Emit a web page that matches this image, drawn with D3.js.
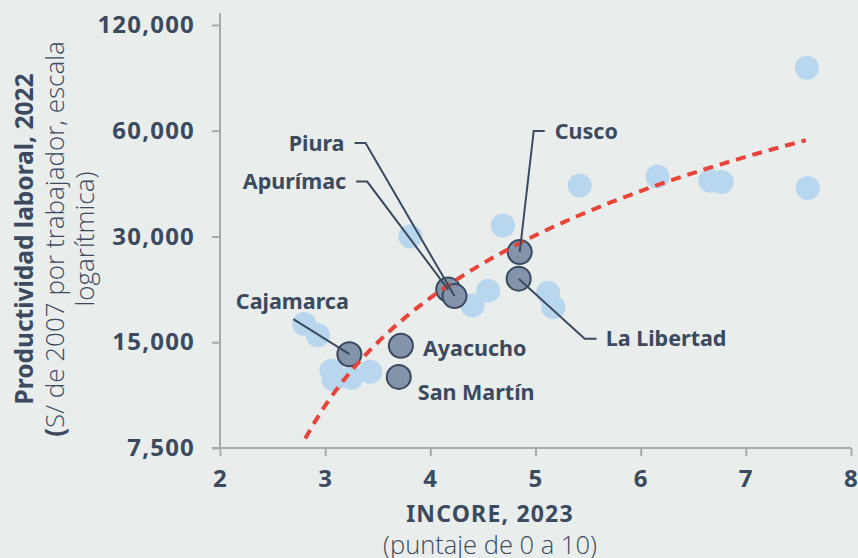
<!DOCTYPE html>
<html>
<head>
<meta charset="utf-8">
<script src="https://cdn.jsdelivr.net/npm/d3@7"></script>
<style>
  body { margin: 0; background: #e9edec; }
  svg { display: block; }
</style>
</head>
<body>
<svg id="chart" width="858" height="558"></svg>
<script>
// other departments (light circles)
const incoreOther = [2.80, 2.93, 3.06, 3.08, 3.25, 3.43, 3.81, 4.40, 4.55, 4.69, 5.12, 5.17, 5.42, 6.16, 6.66, 6.77, 7.58, 7.59];
const prodOther   = [16900, 15700, 12450, 11730, 11880, 12360, 30000, 19070, 21040, 32260, 20760, 18880, 41930, 44470, 43200, 42900, 90730, 41250];

// highlighted departments
const regions       = ["Cajamarca", "Ayacucho", "San Martín", "Apurímac", "Piura", "Cusco", "La Libertad"];
const incoreRegions = [3.23, 3.72, 3.70, 4.17, 4.23, 4.85, 4.84];
const prodRegions   = [13870, 14660, 11950, 21190, 20300, 27100, 22760];

// trend line (linear fit, drawn on the log axis)
const trendRange = [2.81, 7.57];
const trendIntercept = -20590;
const trendSlope = 10166;

const xTicks = [2, 3, 4, 5, 6, 7, 8];
const yTicks = [7500, 15000, 30000, 60000, 120000];

const ink = "#3b4a5e";
const svg = d3.select("#chart");

svg.append("rect").attr("width", 858).attr("height", 558).attr("fill", "#e9edec");

const x = d3.scaleLinear().domain([2, 8]).range([220, 851]);
const y = d3.scaleLog().base(2).domain([7500, 120000]).range([448, 25]);

// axes
const xAxis = svg.append("g")
  .attr("transform", "translate(0," + y(7500) + ")")
  .call(d3.axisBottom(x).tickValues(xTicks).tickFormat(d3.format("d"))
    .tickSize(8).tickPadding(14).tickSizeOuter(0));

const yAxis = svg.append("g")
  .attr("transform", "translate(" + x(2) + ",0)")
  .call(d3.axisLeft(y).tickValues(yTicks).tickFormat(d3.format(","))
    .tickSize(8).tickPadding(17).tickSizeOuter(0));

yAxis.select(".domain").attr("d", "M0," + (y(120000) - 12) + "V" + y(7500));
xAxis.select(".domain").attr("d", "M" + (x(2) - 8) + ",0H" + x(8));

svg.selectAll(".domain, .tick line").attr("stroke", "#a9abab").attr("stroke-width", 2);
svg.selectAll(".tick text")
  .attr("fill", ink)
  .attr("font-family", "'Noto Sans', sans-serif")
  .attr("font-weight", 700)
  .attr("font-size", 24)
  .attr("letter-spacing", 1.2);

// light circles
const others = incoreOther.map((v, i) => ({ x: v, y: prodOther[i] }));
svg.append("g").selectAll("circle")
  .data(others)
  .enter()
  .append("circle")
  .attr("cx", d => x(d.x))
  .attr("cy", d => y(d.y))
  .attr("r", 12)
  .attr("fill", "#b8d7ee");

// highlighted circles
const highlighted = regions.map((name, i) => ({ name: name, x: incoreRegions[i], y: prodRegions[i] }));
svg.append("g").selectAll("circle")
  .data(highlighted)
  .enter()
  .append("circle")
  .attr("cx", d => x(d.x))
  .attr("cy", d => y(d.y))
  .attr("r", 12)
  .attr("fill", "#8293aa")
  .attr("stroke", "#3a4a5f")
  .attr("stroke-width", 2);

// trend line
const trendPts = d3.range(0, 61).map(i => {
  const xv = trendRange[0] + (trendRange[1] - trendRange[0]) * i / 60;
  return [xv, trendIntercept + trendSlope * xv];
});
svg.append("path")
  .datum(trendPts)
  .attr("fill", "none")
  .attr("stroke", "#e8443a")
  .attr("stroke-width", 4)
  .attr("stroke-dasharray", "10,7")
  .attr("d", d3.line().x(d => x(d[0])).y(d => y(d[1])));

// label layout: offsets from the point, leader path points, text anchor
const labelLayout = {
  "Piura":       { lead: [[-100, -153], [-89, -153]], tx: -110, ty: -153, anchor: "end" },
  "Apurímac":    { lead: [[-92, -108], [-81, -108]],  tx: -102, ty: -108, anchor: "end" },
  "Cajamarca":   { lead: [[-56, -35]],                tx: -57,  ty: -53,  anchor: "middle" },
  "Ayacucho":    { lead: null,                        tx: 22,   ty: 3,    anchor: "start" },
  "San Martín":  { lead: null,                        tx: 19,   ty: 15,   anchor: "start" },
  "Cusco":       { lead: [[25, -121], [14, -121]],    tx: 35,   ty: -121, anchor: "start" },
  "La Libertad": { lead: [[78, 60], [66, 60]],        tx: 87,   ty: 60,   anchor: "start" }
};

const labels = svg.append("g");
highlighted.forEach(d => {
  const L = labelLayout[d.name];
  const px = x(d.x), py = y(d.y);
  if (L.lead) {
    const pts = L.lead.map(p => [px + p[0], py + p[1]]).concat([[px, py]]);
    labels.append("path")
      .attr("d", d3.line()(pts))
      .attr("fill", "none")
      .attr("stroke", ink)
      .attr("stroke-width", 2);
  }
  labels.append("text")
    .attr("x", px + L.tx)
    .attr("y", py + L.ty)
    .attr("dy", "0.36em")
    .attr("text-anchor", L.anchor)
    .attr("fill", ink)
    .attr("font-family", "'Noto Sans', sans-serif")
    .attr("font-weight", 700)
    .attr("font-size", 21.5)
    .text(d.name);
});

// axis titles
svg.append("text")
  .attr("x", 490).attr("y", 522)
  .attr("text-anchor", "middle")
  .attr("fill", ink)
  .attr("font-family", "'Noto Sans', sans-serif")
  .attr("font-weight", 700)
  .attr("font-size", 23)
  .attr("letter-spacing", 1.2)
  .text("INCORE, 2023");

svg.append("text")
  .attr("x", 490).attr("y", 554)
  .attr("text-anchor", "middle")
  .attr("fill", ink)
  .attr("font-family", "'Open Sans', 'Noto Sans', sans-serif")
  .attr("font-weight", 300)
  .attr("font-size", 25.5)
  .text("(puntaje de 0 a 10)");

const yTitle = svg.append("g").attr("transform", "translate(0,239) rotate(-90)");
yTitle.append("text")
  .attr("x", 0).attr("y", 33)
  .attr("text-anchor", "middle")
  .attr("fill", ink)
  .attr("font-family", "'Noto Sans', sans-serif")
  .attr("font-weight", 700)
  .attr("font-size", 24.5)
  .text("Productividad laboral, 2022");

const sub = yTitle.append("text")
  .attr("x", 0).attr("y", 64)
  .attr("text-anchor", "middle")
  .attr("fill", ink)
  .attr("font-family", "'Open Sans', 'Noto Sans', sans-serif")
  .attr("font-weight", 300)
  .attr("font-size", 26);
sub.append("tspan").attr("font-weight", 700).text("(");
sub.append("tspan").text("S/ de 2007 por trabajador, escala");

yTitle.append("text")
  .attr("x", 0).attr("y", 94)
  .attr("text-anchor", "middle")
  .attr("fill", ink)
  .attr("font-family", "'Open Sans', 'Noto Sans', sans-serif")
  .attr("font-weight", 300)
  .attr("font-size", 26)
  .text("logarítmica)");
</script>
</body>
</html>
